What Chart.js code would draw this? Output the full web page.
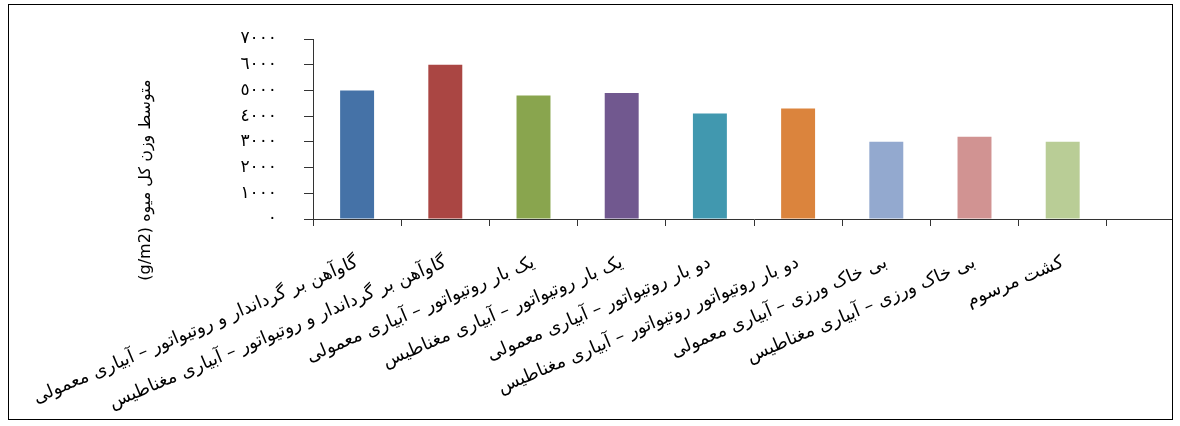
<!DOCTYPE html>
<html lang="fa">
<head>
<meta charset="utf-8">
<script src="https://cdn.jsdelivr.net/npm/chart.js@4.4.1/dist/chart.umd.min.js"></script>
<style>
  html, body { margin: 0; padding: 0; background: #fff; overflow: hidden; }
  #frame { position: absolute; left: 8px; top: 4px; width: 1165px; height: 416px; box-sizing: border-box; border: 1px solid #000; overflow: hidden; background: #fff; }
  #wrap { position: absolute; left: -9px; top: -5px; width: 1210px; height: 426px; }
</style>
</head>
<body>
<div id="frame"><div id="wrap"><canvas id="weightChart" width="1210" height="426" dir="rtl"></canvas></div></div>
<script>
// treatments (last slot is empty in the original sheet)
const categories = [
    'گاوآهن بر گرداندار و روتیواتور – آبیاری معمولی',
    'گاوآهن بر گرداندار و روتیواتور – آبیاری مغناطیس',
    'یک بار روتیواتور – آبیاری معمولی',
    'یک بار روتیواتور – آبیاری مغناطیس',
    'دو بار روتیواتور – آبیاری معمولی',
    'دو بار روتیواتور روتیواتور – آبیاری مغناطیس',
    'بی خاک ورزی – آبیاری معمولی',
    'بی خاک ورزی – آبیاری مغناطیس',
    'کشت مرسوم',
    ''
];
const meanWeight = [5000, 6000, 4800, 4900, 4100, 4300, 3000, 3200, 3000, null];
const barColors = ['#4572A7', '#AA4643', '#89A54E', '#71588F', '#4198AF', '#DB843D', '#93A9CF', '#D19392', '#B9CD96', '#4572A7'];
const yTickLabels = ['٠', '١٠٠٠', '٢٠٠٠', '٣٠٠٠', '٤٠٠٠', '٥٠٠٠', '٦٠٠٠', '٧٠٠٠'];
const yTitle = 'متوسط وزن کل میوه (g/m2)';

Chart.defaults.font.family = "'DejaVu Sans', sans-serif";
Chart.defaults.color = '#000';

// y title sits lower than the plot centre in the original, so draw it by hand
const yTitlePlugin = {
    id: 'yTitle',
    afterDraw(chart) {
        const c = chart.ctx;
        c.save();
        c.translate(146, 180);
        c.rotate(-Math.PI / 2);
        c.font = "16px 'DejaVu Sans', sans-serif";
        c.fillStyle = '#000';
        c.textAlign = 'center';
        c.textBaseline = 'middle';
        c.fillText(yTitle, 0, 0);
        c.restore();
    }
};

const ctx = document.getElementById('weightChart').getContext('2d');
new Chart(ctx, {
    type: 'bar',
    data: {
        labels: categories,
        datasets: [{
            data: meanWeight,
            backgroundColor: barColors,
            borderWidth: 0,
            categoryPercentage: 1,
            barPercentage: 0.385
        }]
    },
    options: {
        responsive: false,
        animation: false,
        layout: { padding: { left: 110, top: 39, right: 15, bottom: 0 } },
        plugins: { legend: { display: false }, tooltip: { enabled: false } },
        scales: {
            x: {
                grid: { drawOnChartArea: false, tickLength: 7, color: '#333', offset: true },
                border: { color: '#333' },
                ticks: {
                    autoSkip: false,
                    minRotation: 23,
                    maxRotation: 23,
                    padding: 26,
                    font: { size: 18 }
                },
                afterFit: function (scale) {
                    scale.height = 207;
                    scale.paddingLeft = 0;
                    scale.paddingRight = 0;
                }
            },
            y: {
                min: 0,
                max: 7000,
                grid: { drawOnChartArea: false, tickLength: 9, color: '#333' },
                border: { color: '#333' },
                ticks: {
                    stepSize: 1000,
                    padding: 27,
                    font: { size: 17 },
                    callback: (value, index) => yTickLabels[index]
                },
                afterFit: function (scale) {
                    scale.width = 203;
                    scale.paddingTop = 0;
                    scale.paddingBottom = 0;
                }
            }
        }
    },
    plugins: [yTitlePlugin]
});
</script>
</body>
</html>
